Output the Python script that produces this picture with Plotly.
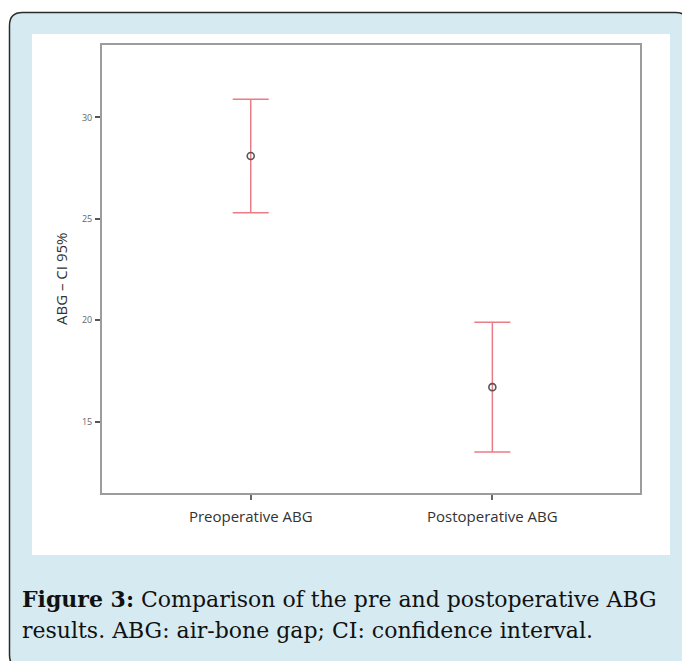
import plotly.graph_objects as go

# ---- data ----
categories = ["Preoperative ABG", "Postoperative ABG"]
means = [28.1, 16.7]
ci_upper = [30.9, 19.9]
ci_lower = [25.3, 13.5]
y_ticks = [15, 20, 25, 30]
y_title = "ABG – CI 95%"
caption_1 = "<b>Figure 3:</b> Comparison of the pre and postoperative ABG"
caption_2 = "results. ABG: air-bone gap; CI: confidence interval."

# ---- geometry (pixels in the 690x661 page; the page body adds an 8px offset) ----
OFF = 8
W, H = 690 - OFF, 661 - OFF
L, R, T, B = 102 - OFF, 640 - OFF, 45 - OFF, 493 - OFF


def px(x):
    return (x - OFF - L) / (R - L)


def py(y):
    return (B - (y - OFF)) / (B - T)


err_plus = [u - m for u, m in zip(ci_upper, means)]
err_minus = [m - l for m, l in zip(means, ci_lower)]

fig = go.Figure()
fig.add_trace(go.Scatter(
    x=categories, y=means, mode="markers",
    marker=dict(symbol="circle-open", size=7, color="#555555", line=dict(width=1.6)),
    error_y=dict(type="data", symmetric=False, array=err_plus, arrayminus=err_minus,
                 color="#ea7c86", thickness=1.5, width=18),
    showlegend=False, hoverinfo="x+y",
))

# outer rounded box
x0, x1 = px(9.5), px(688.5)
y0, y1 = py(12.5), py(668)
rx, ry = 13 / (R - L), 13 / (B - T)
outer_path = (f"M {x0},{y1 + ry} L {x0},{y0 - ry} Q {x0},{y0} {x0 + rx},{y0} "
              f"L {x1 - rx},{y0} Q {x1},{y0} {x1},{y0 - ry} L {x1},{y1 + ry} "
              f"Q {x1},{y1} {x1 - rx},{y1} L {x0 + rx},{y1} Q {x0},{y1} {x0},{y1 + ry} Z")
shapes = [
    dict(type="path", xref="paper", yref="paper", path=outer_path,
         fillcolor="#d6ebf1", line=dict(color="#2b2b2b", width=1.5), layer="below"),
    dict(type="rect", xref="paper", yref="paper", x0=px(32), x1=px(670), y0=py(555), y1=py(34),
         fillcolor="#ffffff", line=dict(width=0), layer="below"),
]

annotations = [
    dict(text=y_title, x=px(61), y=py(279), xref="paper", yref="paper", textangle=-90,
         showarrow=False, xanchor="center", yanchor="middle",
         font=dict(family="Open Sans", size=15, color="#333333")),
    dict(text=caption_1, x=px(21), y=py(599), xref="paper", yref="paper",
         showarrow=False, xanchor="left", yanchor="middle", borderpad=0,
         font=dict(family="DejaVu Serif", size=22, color="#111111")),
    dict(text=caption_2, x=px(21), y=py(630), xref="paper", yref="paper",
         showarrow=False, xanchor="left", yanchor="middle", borderpad=0,
         font=dict(family="DejaVu Serif", size=22, color="#111111")),
]

fig.update_layout(
    width=W, height=H,
    margin=dict(l=L, r=W - R, t=T, b=H - B, pad=0),
    paper_bgcolor="#ffffff", plot_bgcolor="rgba(0,0,0,0)",
    shapes=shapes, annotations=annotations,
    xaxis=dict(range=[-0.6155, 1.611], showgrid=False, zeroline=False,
               showline=True, mirror=True, linecolor="#9c9c9c", linewidth=2,
               ticks="outside", ticklen=5, tickwidth=1.5, tickcolor="#666666",
               ticklabelstandoff=4,
               tickfont=dict(family="Open Sans", size=15, color="#333333")),
    yaxis=dict(range=[11.48, 33.57], showgrid=False, zeroline=False,
               showline=True, mirror=True, linecolor="#9c9c9c", linewidth=2,
               tickvals=y_ticks, ticks="outside", ticklen=5, tickwidth=1.5, tickcolor="#555555",
               ticklabelstandoff=1,
               tickfont=dict(family="Open Sans", size=9, color="#666666")),
)

fig.write_html("out.html")
